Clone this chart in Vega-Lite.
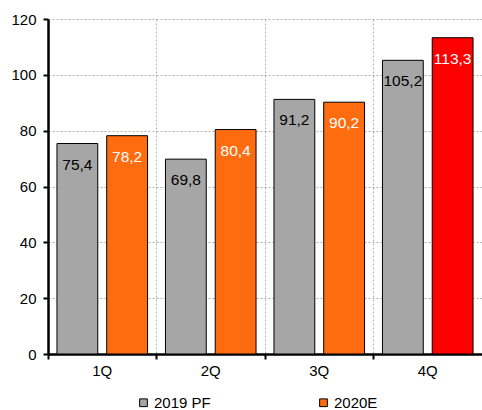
{
  "$schema": "https://vega.github.io/schema/vega-lite/v6.json",
  "autosize": {"type": "none"},
  "padding": {"left": 48, "top": 19, "right": 0, "bottom": 56},
  "width": 434,
  "height": 335,
  "config": {
    "font": "Liberation Sans",
    "view": {"stroke": null},
    "locale": {"number": {"decimal": ",", "thousands": ".", "grouping": [3], "currency": ["", ""]}}
  },
  "data": {
    "values": [
      {"q": "1Q", "s": "2019 PF", "v": 75.4},
      {"q": "1Q", "s": "2020E", "v": 78.2},
      {"q": "2Q", "s": "2019 PF", "v": 69.8},
      {"q": "2Q", "s": "2020E", "v": 80.4},
      {"q": "3Q", "s": "2019 PF", "v": 91.2},
      {"q": "3Q", "s": "2020E", "v": 90.2},
      {"q": "4Q", "s": "2019 PF", "v": 105.2},
      {"q": "4Q", "s": "2020E", "v": 113.3}
    ]
  },
  "encoding": {
    "x": {
      "field": "q", "type": "nominal", "sort": ["1Q", "2Q", "3Q", "4Q"],
      "scale": {"paddingInner": 0, "paddingOuter": 0},
      "axis": {
        "title": null, "labelAngle": 0, "bandPosition": 0,
        "grid": true, "gridColor": "#b0b0b0", "gridDash": [2, 2], "gridWidth": 1,
        "domainColor": "#000000", "domainWidth": 2.5,
        "tickColor": "#000000", "tickWidth": 2, "tickSize": 5,
        "labelFontSize": 15, "labelColor": "#000000", "labelPadding": 4
      }
    },
    "xOffset": {
      "field": "s", "type": "nominal", "sort": ["2019 PF", "2020E"],
      "scale": {"paddingInner": 0.18, "paddingOuter": 0.18}
    },
    "y": {
      "field": "v", "type": "quantitative",
      "scale": {"domain": [0, 120], "nice": false},
      "axis": {
        "title": null, "values": [0, 20, 40, 60, 80, 100, 120],
        "grid": true, "gridColor": "#b0b0b0", "gridDash": [2, 2], "gridWidth": 1,
        "domain": true, "domainColor": "#000000", "domainWidth": 2.5,
        "tickColor": "#000000", "tickWidth": 2, "tickSize": 5,
        "labelFontSize": 15, "labelColor": "#000000", "labelPadding": 7
      }
    }
  },
  "layer": [
    {
      "mark": {"type": "bar", "stroke": "#000000", "strokeWidth": 1},
      "encoding": {
        "color": {
          "condition": {"test": "datum.q === '4Q' && datum.s === '2020E'", "value": "#ff0000"},
          "field": "s", "type": "nominal",
          "scale": {"domain": ["2019 PF", "2020E"], "range": ["#a6a6a6", "#ff6c10"]},
          "legend": {
            "title": null, "orient": "none", "direction": "horizontal",
            "legendX": 88, "legendY": 376,
            "symbolType": "square", "symbolSize": 60, "symbolStrokeColor": "#000000",
            "symbolStrokeWidth": 1, "symbolOpacity": 1,
            "labelFontSize": 15, "labelColor": "#000000", "labelOffset": 3,
            "columnPadding": 105
          }
        }
      }
    },
    {
      "mark": {"type": "text", "baseline": "top", "dy": 14, "fontSize": 15.5},
      "encoding": {
        "text": {"field": "v", "type": "quantitative", "format": ".1f"},
        "color": {
          "condition": {"test": "datum.s === '2019 PF'", "value": "#000000"},
          "value": "#ffffff"
        }
      }
    }
  ]
}
